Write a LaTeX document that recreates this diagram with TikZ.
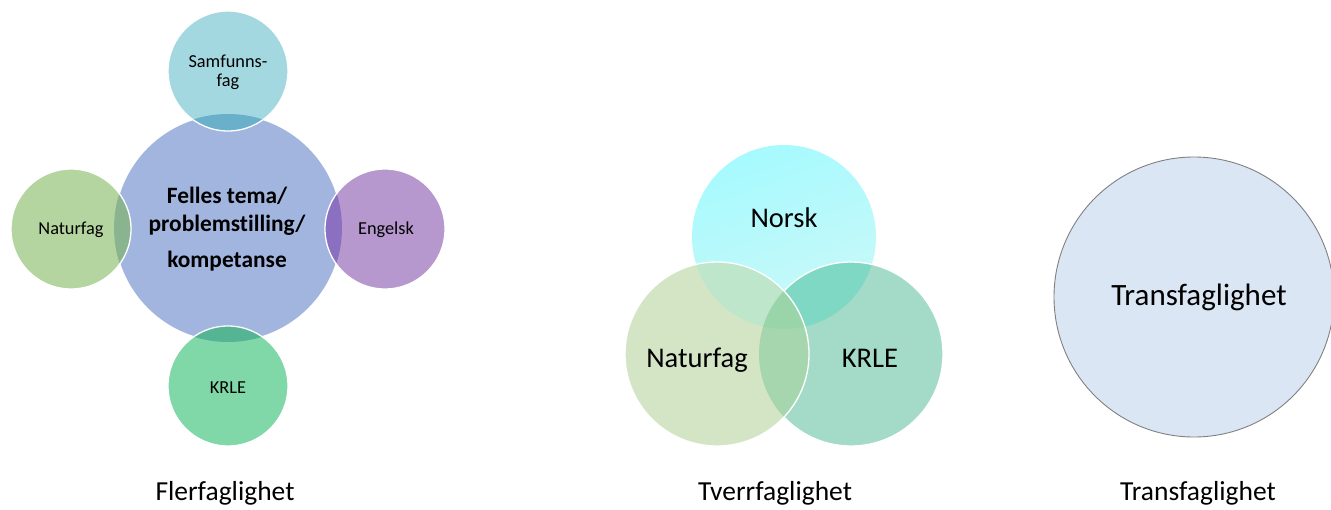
\documentclass[tikz,border=0pt]{standalone}
\usepackage{fontspec}
\setmainfont[Ligatures={NoCommon}]{Carlito}
\definecolor{cCenter}{HTML}{A1B5DF}
\definecolor{cSam}{HTML}{A4D8E0}
\definecolor{cSamO}{HTML}{6BB0CB}
\definecolor{cNat}{HTML}{B5D5A0}
\definecolor{cNatO}{HTML}{8AB490}
\definecolor{cEng}{HTML}{B698CF}
\definecolor{cEngO}{HTML}{8B70C2}
\definecolor{cKrl}{HTML}{80D7A8}
\definecolor{cKrlO}{HTML}{55B494}
\definecolor{mNorA}{HTML}{A6FAFE}
\definecolor{mNorB}{HTML}{CCF8F8}
\definecolor{mNat}{HTML}{D4E5C5}
\definecolor{mKrl}{HTML}{A3DBC8}
\definecolor{mNN}{HTML}{BEE6CB}
\definecolor{mNK}{HTML}{7FD8C4}
\definecolor{mNaK}{HTML}{A6D6AD}
\definecolor{mAll}{HTML}{9AD5A9}
\definecolor{tFill}{HTML}{DAE6F4}
\definecolor{tLine}{HTML}{808080}
\begin{document}
\begin{tikzpicture}[x=1pt,y=-1pt,
  disc/.style={circle,inner sep=0pt,draw=white,line width=1.3pt},
  small/.style={font=\fontsize{18.3}{22}\selectfont,anchor=base,inner sep=0pt},
  boldt/.style={font=\fontsize{23.4}{28}\selectfont\bfseries,anchor=base,inner sep=0pt},
  mid/.style={font=\fontsize{28.5}{34}\selectfont,anchor=base,inner sep=0pt},
  caption/.style={font=\fontsize{27.5}{33}\selectfont,anchor=base,inner sep=0pt}]
\useasboundingbox (0,0) rectangle (1331,509);
\begin{scope}
\clip (0,0) rectangle (1331,509);
% ---------- Flerfaglighet ----------
\node[disc,fill=cCenter,minimum size=228pt] (center) at (228,228) {};
\foreach \n/\c/\o/\px/\py in {sam/cSam/cSamO/228/71, nat/cNat/cNatO/71/229, eng/cEng/cEngO/385/229, krl/cKrl/cKrlO/228/386}{
  \node[circle,inner sep=0pt,fill=\c,minimum size=120pt] (\n) at (\px,\py) {};
  \begin{scope}
    \clip (228,228) circle[radius=114];
    \fill[\o] (\px,\py) circle[radius=60];
  \end{scope}
  \draw[white,line width=1.3pt] (\px,\py) circle[radius=60];
}
\node[small] (samA) at (228,67) {Samfunns-};
\node[small] (samB) at (228,86) {fag};
\node[small] (natT) at (71,234) {Naturfag};
\node[small] (engT) at (386,234) {Engelsk};
\node[small] (krlT) at (228,393) {KRLE};
\node[boldt] (c1) at (227,203) {Felles tema/};
\node[boldt] (c2) at (227,231) {problemstilling/};
\node[boldt] (c3) at (227,267) {kompetanse};
% ---------- Tverrfaglighet ----------
\shade[top color=mNorA,bottom color=mNorB,shading angle=20] (784,237) circle[radius=92];
\node[circle,inner sep=0pt,minimum size=184pt] (norsk) at (784,237) {};
\node[circle,inner sep=0pt,fill=mKrl,minimum size=184pt] (krle) at (851,354) {};
\begin{scope}
  \clip (784,237) circle[radius=92];
  \fill[mNK] (851,354) circle[radius=92];
\end{scope}
\draw[white,line width=1.3pt] (851,354) circle[radius=92];
\node[circle,inner sep=0pt,fill=mNat,minimum size=184pt] (natur) at (717,354) {};
\begin{scope}
  \clip (717,354) circle[radius=92];
  \fill[mNN] (784,237) circle[radius=92];
  \fill[mNaK] (851,354) circle[radius=92];
  \clip (784,237) circle[radius=92];
  \fill[mAll] (851,354) circle[radius=92];
\end{scope}
\draw[white,line width=1.3pt] (717,354) circle[radius=92];
\node[mid] (norT) at (784,227) {Norsk};
\node[mid] (natT2) at (697,367) {Naturfag};
\node[mid] (krlT2) at (870,367) {KRLE};
% ---------- Transfaglighet ----------
\node[circle,inner sep=0pt,fill=tFill,draw=tLine,line width=0.9pt,minimum size=280pt] (trans) at (1194,297) {};
\node[mid,font=\fontsize{31}{36}\selectfont] (transT) at (1199,305) {Transfaglighet};
\end{scope}
% ---------- captions ----------
\node[caption] (cap1) at (225,500) {Flerfaglighet};
\node[caption] (cap2) at (775,500) {Tverrfaglighet};
\node[caption] (cap3) at (1198,500) {Transfaglighet};
\end{tikzpicture}
\end{document}
